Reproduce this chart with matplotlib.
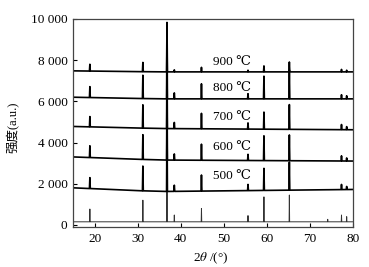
import numpy as np
import matplotlib.pyplot as plt

plt.rcParams.update({
    'font.family': ['Liberation Serif', 'DejaVu Serif', 'Noto Sans CJK SC'],
    'font.size': 9.5,
    'mathtext.fontset': 'stix',
})

# peak positions (2theta, deg) shared by all patterns
peak_pos = [18.9, 31.2, 36.8, 38.5, 44.8, 55.6, 59.3, 65.2, 74.1, 77.3, 78.5]

# baseline anchors (x, intensity) per pattern
base_x = [15, 35, 80]
base_ref = [150, 150, 150]
base_500 = [1800, 1620, 1720]
base_600 = [3300, 3150, 3100]
base_700 = [4780, 4680, 4620]
base_800 = [6200, 6120, 6120]
base_900 = [7480, 7430, 7430]

# peak heights above the baseline
h_ref = [620, 1050, 2600, 330, 650, 300, 1210, 1300, 120, 330, 250]
h_500 = [530, 1200, 3600, 300, 780, 300, 1070, 1360, 0, 250, 150]
h_600 = [570, 1200, 3500, 300, 780, 300, 1200, 1250, 0, 250, 150]
h_700 = [500, 1130, 3300, 300, 750, 300, 830, 1200, 0, 250, 150]
h_800 = [530, 1130, 3300, 290, 730, 250, 1100, 1400, 0, 200, 150]
h_900 = [330, 450, 2400, 100, 220, 80, 290, 480, 0, 120, 80]

temps = ['500 ℃', '600 ℃', '700 ℃', '800 ℃', '900 ℃']
label_y = [2350, 3800, 5260, 6650, 7930]


def pattern(base, heights, hw=0.1):
    xs = [base_x[0]]
    ys = [base[0]]
    for p, h in zip(peak_pos, heights):
        b = np.interp(p, base_x, base)
        xs += [p - hw, p, p + hw]
        ys += [b, b + h, b]
    xs.append(base_x[-1])
    ys.append(base[-1])
    return xs, ys


fig = plt.figure(figsize=(3.69, 2.67), dpi=100)
ax = fig.add_axes([0.198, 0.150, 0.759, 0.779])

x, y = pattern(base_ref, h_ref, hw=0.06)
ax.plot(x, y, color='#333333', lw=0.7)
for base, h in [(base_500, h_500), (base_600, h_600), (base_700, h_700),
                (base_800, h_800), (base_900, h_900)]:
    x, y = pattern(base, h)
    ax.plot(x, y, color='black', lw=1.2)

for t, ly in zip(temps, label_y):
    ax.text(47.4, ly, t, ha='left', va='center', fontsize=9.5)

ax.set_xlim(15, 80)
ax.set_ylim(-100, 10000)
ax.set_xticks([20, 30, 40, 50, 60, 70, 80])
ax.set_yticks([0, 2000, 4000, 6000, 8000, 10000])
ax.set_yticklabels(['0', '2 000', '4 000', '6 000', '8 000', '10 000'])
ax.tick_params(direction='in', length=3, width=0.8, top=False, right=False, pad=4)
for s in ax.spines.values():
    s.set_linewidth(0.9)
    s.set_color('#444444')

ax.set_xlabel(r'2$\it{\theta}$ /(°)', fontsize=9.5)
ax.xaxis.set_label_coords(0.49, -0.115)
ax.set_ylabel('强度(a.u.)', fontsize=9)
ax.yaxis.set_label_coords(-0.19, 0.48)

fig.savefig('out.png', dpi=100)
